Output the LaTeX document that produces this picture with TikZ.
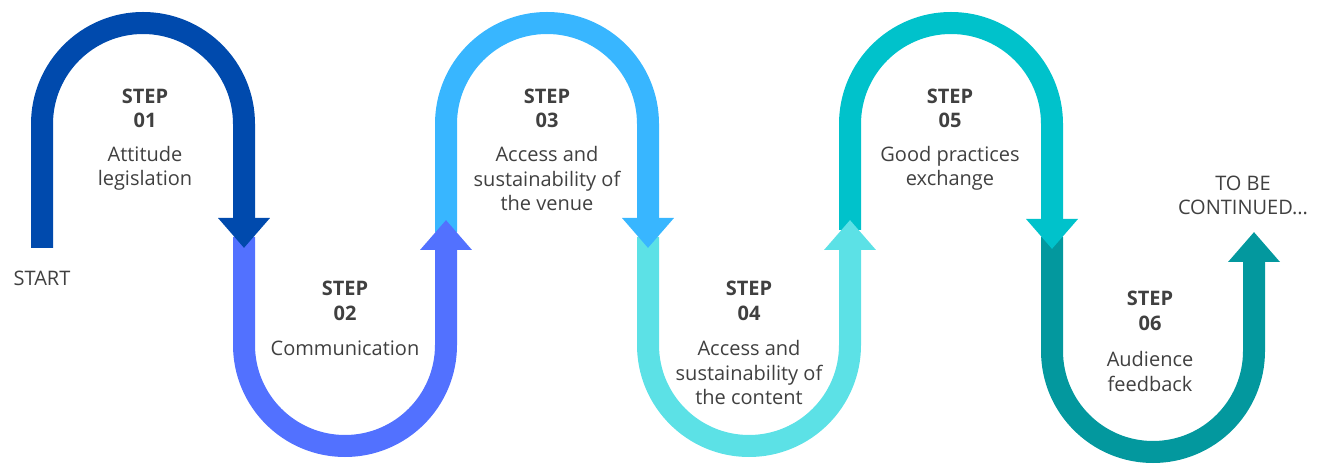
\documentclass[tikz,border=0pt]{standalone}
\usepackage{fontspec}
\setmainfont{Open Sans}
\usepackage{xcolor}
\usetikzlibrary{arrows.meta}
\definecolor{wave-1}{HTML}{004AAD}
\definecolor{wave-2}{HTML}{5271FF}
\definecolor{wave-3}{HTML}{38B6FF}
\definecolor{wave-4}{HTML}{5CE1E6}
\definecolor{wave-5}{HTML}{00C2CB}
\definecolor{wave-6}{HTML}{03989E}
\definecolor{label-grey}{HTML}{404040}
\tikzset{
    wave/.style = {line width=22pt, -{Triangle[width=50pt, length=30pt]}},
    step-title/.style = {text=label-grey, font=\bfseries\fontsize{20}{24.5}\selectfont, align=center, inner sep=0pt, anchor=base},
    step-text/.style = {text=label-grey, font=\fontsize{20}{24.5}\selectfont, align=center, inner sep=0pt, anchor=base},
}

\begin{document}
\begin{tikzpicture}[x=1pt, y=1pt]
\useasboundingbox (0,0) rectangle (1324,465);

% each band is drawn before the one ahead of it, so every head sits on the next band
\draw[wave, wave-6] (1052,228) -- (1052,114) arc[start angle=180, end angle=360, radius=101] -- (1254,233);
\draw[wave, wave-5] (850,235) -- (850,341) arc[start angle=180, end angle=0, radius=101] -- (1052,216);
\draw[wave, wave-4] (648,228) -- (648,120) arc[start angle=180, end angle=360, radius=101] -- (850,245);
\draw[wave, wave-3] (446,233) -- (446,341) arc[start angle=180, end angle=0, radius=101] -- (648,217);
\draw[wave, wave-2] (244,228) -- (244,120) arc[start angle=180, end angle=360, radius=101] -- (446,245);
\draw[wave, wave-1] (42,217) -- (42,341) arc[start angle=180, end angle=0, radius=101] -- (244,217);

% text nodes sit on the baseline of their last line
\node[step-text] (start) at (42,179) {START};
\node[step-text] (to-be-continued) at (1243,250) {TO BE\\CONTINUED...};

\node[step-title] (title-1) at (145,337) {STEP\\01};
\node[step-text] (text-1) at (145,279) {Attitude\\legislation};
\node[step-title] (title-2) at (345,144.5) {STEP\\02};
\node[step-text] (text-2) at (345,109) {Communication};
\node[step-title] (title-3) at (547,337) {STEP\\03};
\node[step-text] (text-3) at (547,254) {Access and\\sustainability of\\the venue};
\node[step-title] (title-4) at (749,144.5) {STEP\\04};
\node[step-text] (text-4) at (749,60) {Access and\\sustainability of\\the content};
\node[step-title] (title-5) at (950,337) {STEP\\05};
\node[step-text] (text-5) at (950,279) {Good practices\\exchange};
\node[step-title] (title-6) at (1150,134.5) {STEP\\06};
\node[step-text] (text-6) at (1150,73.5) {Audience\\feedback};
\end{tikzpicture}
\end{document}
